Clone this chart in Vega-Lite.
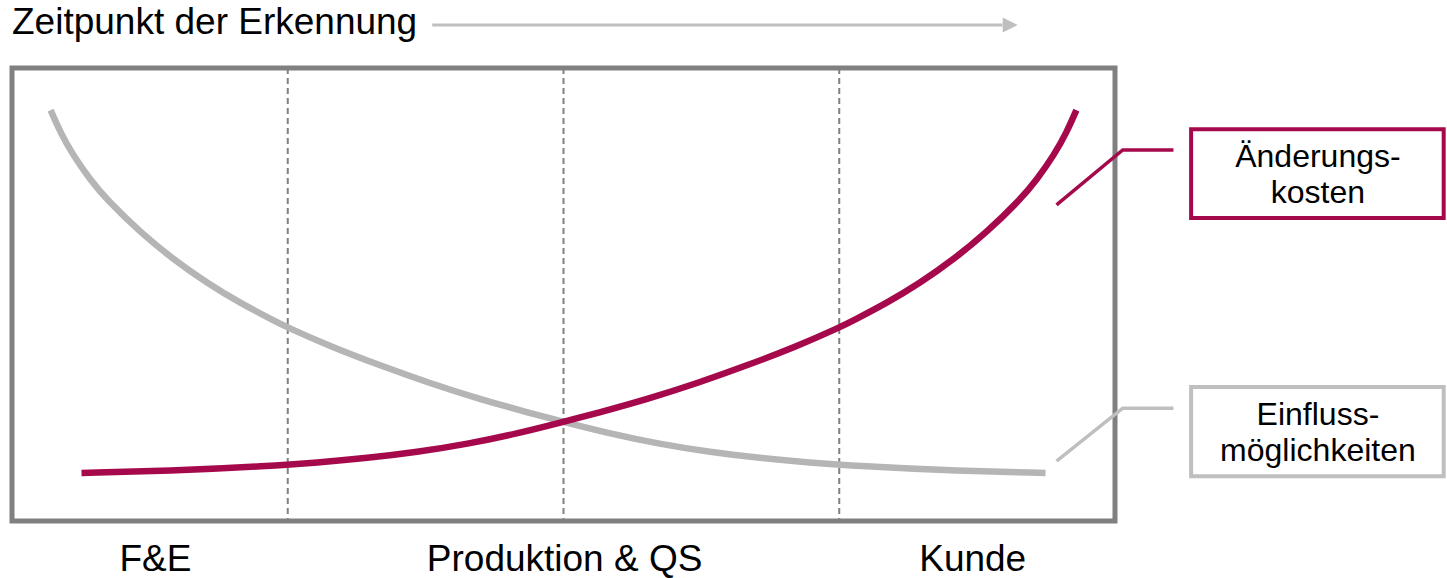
{
  "$schema": "https://vega.github.io/schema/vega-lite/v6.json",
  "width": 1103,
  "height": 453,
  "autosize": "none",
  "padding": {"left": 12, "top": 68, "right": 332, "bottom": 57},
  "background": "white",
  "config": {"view": {"stroke": "#808080", "strokeWidth": 5}, "font": "Liberation Sans"},
  "datasets": {
    "curves": [
      {"x": 3.5, "y": 90.7, "s": "Einflussmöglichkeiten"},
      {"x": 4.4, "y": 85.7, "s": "Einflussmöglichkeiten"},
      {"x": 5.5, "y": 80.9, "s": "Einflussmöglichkeiten"},
      {"x": 7.1, "y": 75.3, "s": "Einflussmöglichkeiten"},
      {"x": 8.6, "y": 70.9, "s": "Einflussmöglichkeiten"},
      {"x": 11.6, "y": 63.8, "s": "Einflussmöglichkeiten"},
      {"x": 14.6, "y": 57.8, "s": "Einflussmöglichkeiten"},
      {"x": 17.7, "y": 52.5, "s": "Einflussmöglichkeiten"},
      {"x": 20.7, "y": 48.1, "s": "Einflussmöglichkeiten"},
      {"x": 23.7, "y": 44.3, "s": "Einflussmöglichkeiten"},
      {"x": 24.9, "y": 42.8, "s": "Einflussmöglichkeiten"},
      {"x": 28.8, "y": 38.6, "s": "Einflussmöglichkeiten"},
      {"x": 33.4, "y": 34.3, "s": "Einflussmöglichkeiten"},
      {"x": 37.9, "y": 30.4, "s": "Einflussmöglichkeiten"},
      {"x": 42.4, "y": 26.9, "s": "Einflussmöglichkeiten"},
      {"x": 47.0, "y": 23.8, "s": "Einflussmöglichkeiten"},
      {"x": 50.0, "y": 21.9, "s": "Einflussmöglichkeiten"},
      {"x": 54.2, "y": 19.3, "s": "Einflussmöglichkeiten"},
      {"x": 58.7, "y": 17.0, "s": "Einflussmöglichkeiten"},
      {"x": 63.3, "y": 15.2, "s": "Einflussmöglichkeiten"},
      {"x": 67.8, "y": 13.9, "s": "Einflussmöglichkeiten"},
      {"x": 72.3, "y": 12.9, "s": "Einflussmöglichkeiten"},
      {"x": 76.9, "y": 12.1, "s": "Einflussmöglichkeiten"},
      {"x": 85.0, "y": 11.1, "s": "Einflussmöglichkeiten"},
      {"x": 93.7, "y": 10.6, "s": "Einflussmöglichkeiten"},
      {"x": 6.3, "y": 10.6, "s": "Änderungskosten"},
      {"x": 15.0, "y": 11.1, "s": "Änderungskosten"},
      {"x": 23.1, "y": 12.1, "s": "Änderungskosten"},
      {"x": 27.7, "y": 12.9, "s": "Änderungskosten"},
      {"x": 32.2, "y": 13.9, "s": "Änderungskosten"},
      {"x": 36.7, "y": 15.2, "s": "Änderungskosten"},
      {"x": 41.3, "y": 17.0, "s": "Änderungskosten"},
      {"x": 45.8, "y": 19.3, "s": "Änderungskosten"},
      {"x": 50.0, "y": 21.9, "s": "Änderungskosten"},
      {"x": 53.0, "y": 23.8, "s": "Änderungskosten"},
      {"x": 57.6, "y": 26.9, "s": "Änderungskosten"},
      {"x": 62.1, "y": 30.4, "s": "Änderungskosten"},
      {"x": 66.6, "y": 34.3, "s": "Änderungskosten"},
      {"x": 71.2, "y": 38.6, "s": "Änderungskosten"},
      {"x": 75.1, "y": 42.8, "s": "Änderungskosten"},
      {"x": 76.3, "y": 44.3, "s": "Änderungskosten"},
      {"x": 79.3, "y": 48.1, "s": "Änderungskosten"},
      {"x": 82.3, "y": 52.5, "s": "Änderungskosten"},
      {"x": 85.4, "y": 57.8, "s": "Änderungskosten"},
      {"x": 88.4, "y": 63.8, "s": "Änderungskosten"},
      {"x": 91.4, "y": 70.9, "s": "Änderungskosten"},
      {"x": 92.9, "y": 75.3, "s": "Änderungskosten"},
      {"x": 94.5, "y": 80.9, "s": "Änderungskosten"},
      {"x": 95.6, "y": 85.7, "s": "Änderungskosten"},
      {"x": 96.5, "y": 90.7, "s": "Änderungskosten"}
    ],
    "dividers": [{"x": 25}, {"x": 50}, {"x": 75}],
    "phases": [
      {"x": 13.0, "y": -11.1, "t": "F&E"},
      {"x": 50.1, "y": -11.1, "t": "Produktion & QS"},
      {"x": 87.1, "y": -11.1, "t": "Kunde"}
    ],
    "heading": [{"x": 0, "y": 107.5, "t": "Zeitpunkt der Erkennung"}],
    "arrow": [{"x": 38.1, "y": 109.5}, {"x": 89.8, "y": 109.5}],
    "arrowhead": [{"x": 90.5, "y": 109.5}],
    "boxes": [
      {"x": 106.9, "x2": 129.8, "xm": 118.4, "y": 86.5, "y2": 66.9, "s": "Änderungskosten", "t": "Änderungs-\nkosten", "ty": 78.1},
      {"x": 106.9, "x2": 129.8, "xm": 118.4, "y": 29.6, "y2": 9.9, "s": "Einflussmöglichkeiten", "t": "Einfluss-\nmöglichkeiten", "ty": 21.2}
    ],
    "connectors": [
      {"x": 94.7, "y": 69.8, "s": "Änderungskosten"},
      {"x": 100.7, "y": 81.9, "s": "Änderungskosten"},
      {"x": 105.3, "y": 81.9, "s": "Änderungskosten"},
      {"x": 94.7, "y": 13.2, "s": "Einflussmöglichkeiten"},
      {"x": 100.7, "y": 24.9, "s": "Einflussmöglichkeiten"},
      {"x": 105.3, "y": 24.9, "s": "Einflussmöglichkeiten"}
    ]
  },
  "layer": [
    {
      "data": {"name": "dividers"},
      "mark": {"type": "rule", "stroke": "#808080", "strokeWidth": 2, "strokeDash": [6, 4]},
      "encoding": {
        "x": {"field": "x", "type": "quantitative", "scale": {"domain": [0, 100], "nice": false, "zero": false}, "axis": null}
      }
    },
    {
      "data": {"name": "curves"},
      "mark": {"type": "line", "strokeWidth": 6.5, "strokeCap": "butt", "interpolate": "basis"},
      "encoding": {
        "x": {"field": "x", "type": "quantitative", "scale": {"domain": [0, 100], "nice": false, "zero": false}, "axis": null},
        "y": {"field": "y", "type": "quantitative", "scale": {"domain": [0, 100], "nice": false, "zero": false}, "axis": null},
        "color": {"field": "s", "type": "nominal", "scale": {"domain": ["Änderungskosten", "Einflussmöglichkeiten"], "range": ["#A6094B", "#B5B5B5"]}, "legend": null}
      }
    },
    {
      "data": {"name": "connectors"},
      "mark": {"type": "line", "strokeWidth": 3.5, "strokeCap": "butt"},
      "encoding": {
        "x": {"field": "x", "type": "quantitative", "scale": {"domain": [0, 100], "nice": false, "zero": false}, "axis": null},
        "y": {"field": "y", "type": "quantitative", "scale": {"domain": [0, 100], "nice": false, "zero": false}, "axis": null},
        "detail": {"field": "s"},
        "stroke": {"field": "s", "type": "nominal", "scale": {"domain": ["Änderungskosten", "Einflussmöglichkeiten"], "range": ["#A6094B", "#BFBFBF"]}, "legend": null}
      }
    },
    {
      "data": {"name": "boxes"},
      "mark": {"type": "rect", "fill": "white", "strokeWidth": 4},
      "encoding": {
        "x": {"field": "x", "type": "quantitative", "scale": {"domain": [0, 100], "nice": false, "zero": false}, "axis": null},
        "x2": {"field": "x2"},
        "y": {"field": "y", "type": "quantitative", "scale": {"domain": [0, 100], "nice": false, "zero": false}, "axis": null},
        "y2": {"field": "y2"},
        "stroke": {"field": "s", "type": "nominal", "scale": {"domain": ["Änderungskosten", "Einflussmöglichkeiten"], "range": ["#A6094B", "#BFBFBF"]}, "legend": null}
      }
    },
    {
      "data": {"name": "boxes"},
      "mark": {"type": "text", "fontSize": 32, "align": "center", "baseline": "alphabetic", "lineBreak": "\n", "lineHeight": 36, "color": "black"},
      "encoding": {
        "x": {"field": "xm", "type": "quantitative", "scale": {"domain": [0, 100], "nice": false, "zero": false}, "axis": null},
        "y": {"field": "ty", "type": "quantitative", "scale": {"domain": [0, 100], "nice": false, "zero": false}, "axis": null},
        "text": {"field": "t"}
      }
    },
    {
      "data": {"name": "phases"},
      "mark": {"type": "text", "fontSize": 37, "align": "center", "baseline": "alphabetic", "color": "black"},
      "encoding": {
        "x": {"field": "x", "type": "quantitative", "scale": {"domain": [0, 100], "nice": false, "zero": false}, "axis": null},
        "y": {"field": "y", "type": "quantitative", "scale": {"domain": [0, 100], "nice": false, "zero": false}, "axis": null},
        "text": {"field": "t"}
      }
    },
    {
      "data": {"name": "heading"},
      "mark": {"type": "text", "fontSize": 37, "align": "left", "baseline": "alphabetic", "color": "black"},
      "encoding": {
        "x": {"field": "x", "type": "quantitative", "scale": {"domain": [0, 100], "nice": false, "zero": false}, "axis": null},
        "y": {"field": "y", "type": "quantitative", "scale": {"domain": [0, 100], "nice": false, "zero": false}, "axis": null},
        "text": {"field": "t"}
      }
    },
    {
      "data": {"name": "arrow"},
      "mark": {"type": "line", "stroke": "#BFBFBF", "strokeWidth": 3},
      "encoding": {
        "x": {"field": "x", "type": "quantitative", "scale": {"domain": [0, 100], "nice": false, "zero": false}, "axis": null},
        "y": {"field": "y", "type": "quantitative", "scale": {"domain": [0, 100], "nice": false, "zero": false}, "axis": null}
      }
    },
    {
      "data": {"name": "arrowhead"},
      "mark": {"type": "point", "shape": "M-1,-1L1,0L-1,1Z", "size": 225, "filled": true, "color": "#BFBFBF", "opacity": 1},
      "encoding": {
        "x": {"field": "x", "type": "quantitative", "scale": {"domain": [0, 100], "nice": false, "zero": false}, "axis": null},
        "y": {"field": "y", "type": "quantitative", "scale": {"domain": [0, 100], "nice": false, "zero": false}, "axis": null}
      }
    }
  ]
}
